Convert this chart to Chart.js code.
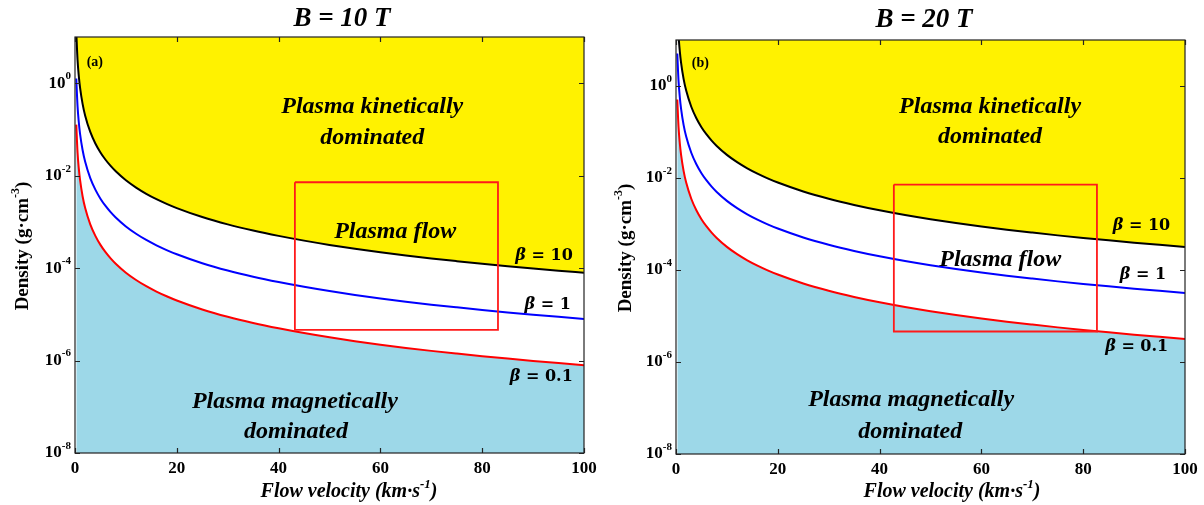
<!DOCTYPE html>
<html><head><meta charset="utf-8">
<script src="https://cdn.jsdelivr.net/npm/chart.js@4.4.1/dist/chart.umd.min.js"></script>
<style>
html,body{margin:0;padding:0;background:#fff;}
#wrap{position:relative;width:1204px;height:505px;background:#fff;}
.pane{position:absolute;top:0;width:602px;height:505px;}
</style></head><body>
<div id="wrap">
<div class="pane" style="left:0"><canvas id="ca" width="602" height="505"></canvas></div>
<div class="pane" style="left:602px"><canvas id="cb" width="602" height="505"></canvas></div>
</div>
<script>
// ---------- data ----------
const velocity = [0.25,0.5,0.75,1,1.5,2,3,4,5,6,7,8,10,12,14,16,18,20,25,30,35,40,45,50,55,60,65,70,75,80,85,90,95,100];

// Panel (a): B = 10 T
const densA_beta10 = [1.27e1,3.18e0,1.415e0,7.96e-1,3.54e-1,1.99e-1,8.84e-2,4.98e-2,3.18e-2,2.21e-2,1.624e-2,1.244e-2,7.96e-3,5.53e-3,4.06e-3,3.11e-3,2.46e-3,1.99e-3,1.274e-3,8.84e-4,6.5e-4,4.98e-4,3.93e-4,3.18e-4,2.63e-4,2.21e-4,1.88e-4,1.62e-4,1.415e-4,1.244e-4,1.102e-4,9.83e-5,8.82e-5,7.96e-5];
const densA_beta1 = [1.27e0,3.18e-1,1.415e-1,7.96e-2,3.54e-2,1.99e-2,8.84e-3,4.98e-3,3.18e-3,2.21e-3,1.624e-3,1.244e-3,7.96e-4,5.53e-4,4.06e-4,3.11e-4,2.46e-4,1.99e-4,1.274e-4,8.84e-5,6.5e-5,4.98e-5,3.93e-5,3.18e-5,2.63e-5,2.21e-5,1.88e-5,1.62e-5,1.415e-5,1.244e-5,1.102e-5,9.83e-6,8.82e-6,7.96e-6];
const densA_beta01 = [1.27e-1,3.18e-2,1.415e-2,7.96e-3,3.54e-3,1.99e-3,8.84e-4,4.98e-4,3.18e-4,2.21e-4,1.624e-4,1.244e-4,7.96e-5,5.53e-5,4.06e-5,3.11e-5,2.46e-5,1.99e-5,1.274e-5,8.84e-6,6.5e-6,4.98e-6,3.93e-6,3.18e-6,2.63e-6,2.21e-6,1.88e-6,1.62e-6,1.415e-6,1.244e-6,1.102e-6,9.83e-7,8.82e-7,7.96e-7];

// Panel (b): B = 20 T
const densB_beta10 = [5.09e1,1.273e1,5.66e0,3.18e0,1.415e0,7.96e-1,3.54e-1,1.99e-1,1.273e-1,8.84e-2,6.5e-2,4.98e-2,3.18e-2,2.21e-2,1.624e-2,1.244e-2,9.82e-3,7.96e-3,5.1e-3,3.54e-3,2.6e-3,1.99e-3,1.572e-3,1.273e-3,1.052e-3,8.84e-4,7.52e-4,6.5e-4,5.66e-4,4.98e-4,4.41e-4,3.93e-4,3.53e-4,3.18e-4];
const densB_beta1 = [5.09e0,1.273e0,5.66e-1,3.18e-1,1.415e-1,7.96e-2,3.54e-2,1.99e-2,1.273e-2,8.84e-3,6.5e-3,4.98e-3,3.18e-3,2.21e-3,1.624e-3,1.244e-3,9.82e-4,7.96e-4,5.1e-4,3.54e-4,2.6e-4,1.99e-4,1.572e-4,1.273e-4,1.052e-4,8.84e-5,7.52e-5,6.5e-5,5.66e-5,4.98e-5,4.41e-5,3.93e-5,3.53e-5,3.18e-5];
const densB_beta01 = [5.09e-1,1.273e-1,5.66e-2,3.18e-2,1.415e-2,7.96e-3,3.54e-3,1.99e-3,1.273e-3,8.84e-4,6.5e-4,4.98e-4,3.18e-4,2.21e-4,1.624e-4,1.244e-4,9.82e-5,7.96e-5,5.1e-5,3.54e-5,2.6e-5,1.99e-5,1.572e-5,1.273e-5,1.052e-5,8.84e-6,7.52e-6,6.5e-6,5.66e-6,4.98e-6,4.41e-6,3.93e-6,3.53e-6,3.18e-6];

// "Plasma flow" window (velocity corners, density corners)
const rectA_v = [43.2,83.1,83.1,43.2,43.2];
const rectA_d = [7.2e-3,7.2e-3,4.6e-6,4.6e-6,7.2e-3];
const rectB_v = [42.8,82.7,82.7,42.8,42.8];
const rectB_d = [7.2e-3,7.2e-3,4.6e-6,4.6e-6,7.2e-3];

// axes
const xTickValues = [0,20,40,60,80,100];
const yTickValues = [1e-8,1e-6,1e-4,1e-2,1e0];
const yTickExponents = ['-8','-6','-4','-2','0'];
const betaLabels = ['10','1','0.1'];
const panelTitles = ['B = 10 T','B = 20 T'];
const panelTags = ['(a)','(b)'];

// ---------- rendering ----------
const SERIF = '"Liberation Serif", "Times New Roman", serif';
const MATH = '"DejaVu Serif", serif';
const YELLOW = '#FFF200';
const CYAN = '#9DD8E8';

function richText(ctx, parts, x, y, align){
  let w = 0;
  parts.forEach(p => { ctx.font = p.font; p.w = ctx.measureText(p.t).width; w += p.w; });
  let sx = align === 'center' ? x - w/2 : (align === 'right' ? x - w : x);
  ctx.textAlign = 'left';
  parts.forEach(p => { ctx.font = p.font; ctx.fillText(p.t, sx, y + (p.dy || 0)); sx += p.w; });
}

function buildPanel(canvasId, P){
  const line = (arr, color, fill, bg) => ({
    data: velocity.map((v,i) => ({x: v, y: arr[i]})),
    borderColor: color, borderWidth: 2, pointRadius: 0,
    fill: fill, backgroundColor: bg || 'transparent',
    cubicInterpolationMode: 'monotone'
  });
  const rect = {
    data: P.rectV.map((v,i) => ({x: v, y: P.rectD[i]})),
    borderColor: '#FF1A1A', borderWidth: 1.8, pointRadius: 0, fill: false, tension: 0
  };

  const deco = {
    id: 'deco',
    afterDatasetsDraw(chart){
      const {ctx, chartArea: a, scales: {x, y}} = chart;
      ctx.save();
      ctx.strokeStyle = '#222'; ctx.lineWidth = 1.2;
      ctx.strokeRect(a.left, a.top, a.right - a.left, a.bottom - a.top);
      ctx.beginPath();
      x.ticks.forEach(t => {
        const px = Math.round(x.getPixelForValue(t.value)) + 0.5;
        ctx.moveTo(px, a.bottom); ctx.lineTo(px, a.bottom - 5);
        ctx.moveTo(px, a.top); ctx.lineTo(px, a.top + 5);
      });
      y.ticks.forEach(t => {
        const py = Math.round(y.getPixelForValue(t.value)) + 0.5;
        ctx.moveTo(a.left, py); ctx.lineTo(a.left + 5, py);
        ctx.moveTo(a.right, py); ctx.lineTo(a.right - 5, py);
      });
      ctx.stroke();
      ctx.restore();
    },
    afterDraw(chart){
      const {ctx, chartArea: a, scales: {x, y}} = chart;
      ctx.save();
      ctx.fillStyle = '#000';
      ctx.textBaseline = 'middle';
      // y tick labels 10^n
      y.ticks.forEach((t, i) => {
        const py = y.getPixelForValue(t.value);
        richText(ctx, [
          {t: '10', font: 'bold 17px ' + SERIF},
          {t: yTickExponents[i], font: 'bold 11px ' + SERIF, dy: -7}
        ], a.left - 4, py, 'right');
      });
      // title
      richText(ctx, [{t: P.title, font: 'italic bold 27px ' + SERIF}], P.titleX, P.titleY, 'center');
      // x title
      richText(ctx, [
        {t: 'Flow velocity (km·s', font: 'italic bold 20px ' + SERIF},
        {t: '-1', font: 'italic bold 13px ' + SERIF, dy: -7},
        {t: ')', font: 'italic bold 20px ' + SERIF}
      ], P.xTitleX, P.xTitleY, 'center');
      // y title
      ctx.save();
      ctx.translate(P.yTitleX, P.yTitleY);
      ctx.rotate(-Math.PI/2);
      richText(ctx, [
        {t: 'Density (g·cm', font: 'bold 19px ' + SERIF},
        {t: '-3', font: 'bold 12px ' + SERIF, dy: -7},
        {t: ')', font: 'bold 19px ' + SERIF}
      ], 0, 0, 'center');
      ctx.restore();
      // panel tag
      richText(ctx, [{t: P.tag, font: 'bold 14px ' + SERIF}], x.getPixelForValue(P.tagPos[0]), y.getPixelForValue(P.tagPos[1]), 'left');
      // region labels
      P.regions.forEach(r => {
        richText(ctx, [{t: r.t, font: 'italic bold 24px ' + SERIF}], x.getPixelForValue(r.v), y.getPixelForValue(r.d), 'center');
      });
      // beta labels
      P.betaPos.forEach((bp, i) => {
        richText(ctx, [
          {t: 'β', font: 'italic bold 16px ' + MATH},
          {t: ' = ' + betaLabels[i], font: 'bold 16px ' + MATH}
        ], x.getPixelForValue(bp[0]), y.getPixelForValue(bp[1]), 'right');
      });
      ctx.restore();
    }
  };

  return new Chart(document.getElementById(canvasId), {
    type: 'line',
    data: {datasets: [
      rect,
      line(P.d10, '#000000', 'end', YELLOW),
      line(P.d1, '#0000FF', false),
      line(P.d01, '#FF0000', 'start', CYAN)
    ]},
    options: {
      responsive: false, animation: false, devicePixelRatio: 1,
      layout: {padding: {top: P.top, right: P.right, left: 0, bottom: 0}},
      plugins: {legend: {display: false}, tooltip: {enabled: false}, title: {display: false}},
      scales: {
        x: {
          type: 'linear', min: 0, max: 100,
          grid: {display: false, drawTicks: false}, border: {display: false},
          ticks: {maxRotation: 0, autoSkip: false, padding: 5, color: '#000',
                  font: {family: SERIF, size: 17, weight: 'bold'}},
          afterBuildTicks: s => { s.ticks = xTickValues.map(v => ({value: v})); },
          afterFit: s => { s.height = P.xh; }
        },
        y: {
          type: 'logarithmic', min: 1e-8, max: 10,
          grid: {display: false, drawTicks: false}, border: {display: false},
          ticks: {display: false},
          afterBuildTicks: s => { s.ticks = yTickValues.map(v => ({value: v})); },
          afterFit: s => { s.width = P.yw; }
        }
      }
    },
    plugins: [deco]
  });
}

buildPanel('ca', {
  d10: densA_beta10, d1: densA_beta1, d01: densA_beta01,
  rectV: rectA_v, rectD: rectA_d,
  title: panelTitles[0], tag: panelTags[0],
  top: 37, right: 18, xh: 52, yw: 75,
  titleX: 342, titleY: 19, xTitleX: 349, xTitleY: 492, yTitleX: 23, yTitleY: 246,
  tagPos: [2.3, Math.pow(10, 0.45)],
  regions: [
    {t: 'Plasma kinetically', v: 58.4, d: Math.pow(10, -0.52)},
    {t: 'dominated', v: 58.4, d: Math.pow(10, -1.17)},
    {t: 'Plasma flow', v: 62.9, d: Math.pow(10, -3.22)},
    {t: 'Plasma magnetically', v: 43.2, d: Math.pow(10, -6.90)},
    {t: 'dominated', v: 43.4, d: Math.pow(10, -7.54)}
  ],
  betaPos: [[97.8, Math.pow(10, -3.74)], [97.4, Math.pow(10, -4.80)], [97.8, Math.pow(10, -6.36)]]
});

buildPanel('cb', {
  d10: densB_beta10, d1: densB_beta1, d01: densB_beta01,
  rectV: rectB_v, rectD: rectB_d,
  title: panelTitles[1], tag: panelTags[1],
  top: 40, right: 19, xh: 51, yw: 74,
  titleX: 322, titleY: 20, xTitleX: 350, xTitleY: 492, yTitleX: 24, yTitleY: 248,
  tagPos: [3.1, Math.pow(10, 0.5)],
  regions: [
    {t: 'Plasma kinetically', v: 61.7, d: Math.pow(10, -0.46)},
    {t: 'dominated', v: 61.7, d: Math.pow(10, -1.11)},
    {t: 'Plasma flow', v: 63.7, d: Math.pow(10, -3.78)},
    {t: 'Plasma magnetically', v: 46.2, d: Math.pow(10, -6.83)},
    {t: 'dominated', v: 46.0, d: Math.pow(10, -7.52)}
  ],
  betaPos: [[97.1, Math.pow(10, -3.04)], [96.3, Math.pow(10, -4.11)], [96.7, Math.pow(10, -5.67)]]
});
</script>
</body></html>
